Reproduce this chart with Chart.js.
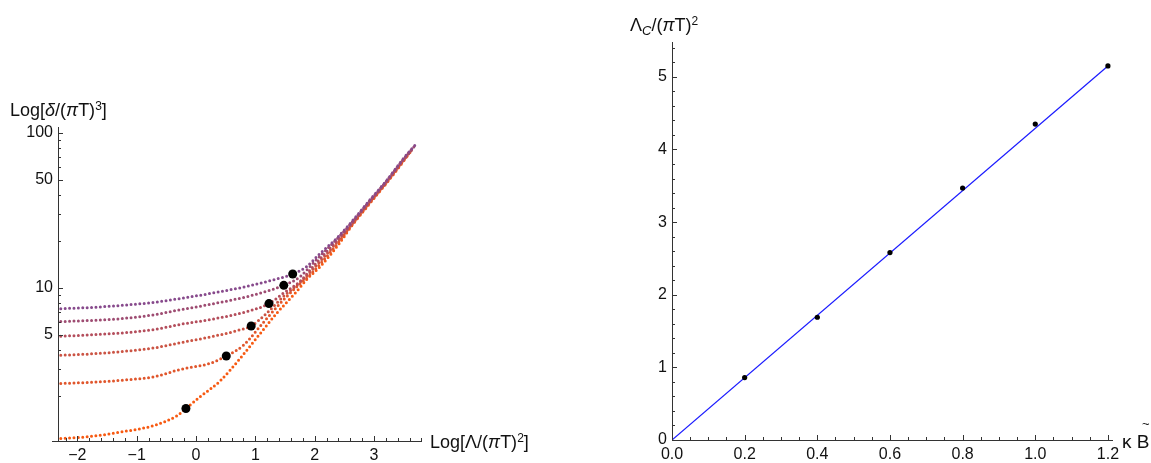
<!DOCTYPE html>
<html>
<head>
<meta charset="utf-8">
<script src="https://cdn.jsdelivr.net/npm/chart.js@4.4.1/dist/chart.umd.min.js"></script>
<style>
  body { margin: 0; background: #fff; width: 1151px; height: 463px; overflow: hidden; position: relative;
         font-family: "Liberation Sans", Arial, sans-serif; }
  .box { position: absolute; top: 0; }
  #left { left: 0; width: 575px; height: 463px; }
  #right { left: 575px; width: 576px; height: 463px; }
  .lbl { position: absolute; font-size: 18px; line-height: 18px; white-space: nowrap; color: #111; }
  .lbl sup { font-size: 12px; position: relative; top: -6px; vertical-align: baseline; }
  .lbl sub { font-size: 13px; position: relative; top: 4px; vertical-align: baseline; }
  .tilde { position: absolute; font-size: 13px; line-height: 13px; color: #111; }
</style>
</head>
<body>
<div class="box" id="left"><canvas id="cLeft" width="575" height="463"></canvas></div>
<div class="box" id="right"><canvas id="cRight" width="576" height="463"></canvas></div>

<div class="lbl" style="left:10px;top:101px">Log[<i>δ</i>/(<i>π</i>T)<sup>3</sup>]</div>
<div class="lbl" style="left:430px;top:433px">Log[Λ/(<i>π</i>T)<sup>2</sup>]</div>
<div class="lbl" style="left:630px;top:16px">Λ<sub><i>C</i></sub>/(<i>π</i>T)<sup>2</sup></div>
<div class="lbl" style="left:1122px;top:433px;font-size:19px">κ B</div>
<div class="tilde" style="left:1142px;top:417px">~</div>

<script>
// ---- left panel: Log[Λ/(πT)^2] vs δ/(πT)^3 (log axis), six families
const curve1 = [[-2.28,7.35],[-1.8,7.48],[-1.25,7.73],[-0.7,8.09],[-0.27,8.55],[0.29,9.29],[0.85,10.23],[1.3,11.27],[1.63,12.3],[1.85,13.6],[2.09,16.7],[2.37,20.9],[2.65,27.5],[2.93,37.0],[3.22,49.8],[3.50,68.7],[3.71,84.9]];
const curve2 = [[-2.28,6.07],[-1.8,6.17],[-1.25,6.35],[-0.7,6.73],[-0.27,7.24],[0.29,7.91],[0.97,9.02],[1.48,10.4],[1.75,11.8],[1.97,14.4],[2.28,19.0],[2.57,25.0],[2.86,34.0],[3.21,49.0],[3.50,68.0],[3.68,82.0]];
const curve3 = [[-2.28,4.88],[-1.8,4.98],[-1.25,5.13],[-0.7,5.40],[-0.27,5.82],[0.29,6.31],[0.85,7.03],[1.23,7.93],[1.47,9.25],[1.75,11.0],[2.02,14.4],[2.31,19.0],[2.59,25.0],[2.87,34.0],[3.22,49.0],[3.50,67.5],[3.66,80.0]];
const curve4 = [[-2.28,3.68],[-1.8,3.75],[-1.25,3.89],[-0.7,4.11],[-0.27,4.43],[0.29,4.88],[0.74,5.37],[0.93,5.69],[1.19,6.87],[1.47,8.79],[1.75,10.84],[2.06,14.4],[2.34,19.0],[2.60,25.0],[2.88,34.0],[3.23,49.0],[3.50,67.0],[3.64,78.0]];
const curve5 = [[-2.28,2.42],[-1.8,2.46],[-1.25,2.54],[-0.7,2.68],[-0.27,2.98],[0.24,3.27],[0.51,3.64],[0.80,4.27],[1.13,5.96],[1.42,7.96],[1.70,10.2],[1.89,11.8],[2.10,14.4],[2.37,19.0],[2.61,25.0],[2.89,34.0],[3.23,49.0],[3.50,66.5],[3.62,76.0]];
const curve6 = [[-2.28,1.07],[-1.8,1.10],[-1.25,1.18],[-0.7,1.30],[-0.32,1.50],[-0.17,1.67],[0.07,1.99],[0.40,2.50],[0.74,3.50],[1.02,4.75],[1.36,6.87],[1.67,9.24],[1.89,11.6],[2.09,13.7],[2.40,19.0],[2.62,25.0],[2.90,34.0],[3.24,49.0],[3.50,66.0],[3.60,75.0]];
const curveColors = ['#874a8c', '#9e4c72', '#b44e5c', '#cb5444', '#e0562c', '#f75a12'];

// black markers on each family
const markX = [1.63, 1.48, 1.23, 0.93, 0.51, -0.17];
const markY = [12.3, 10.4, 7.93, 5.69, 3.64, 1.67];

const leftXTicks = [-2, -1, 0, 1, 2, 3];
const leftYTicks = [5, 10, 50, 100];
const leftYMinor = [2, 3, 4, 6, 7, 8, 9, 20, 30, 40, 60, 70, 80, 90];

// ---- right panel: Λc/(πT)^2 vs κ B~
const kappaB = [0.2, 0.4, 0.6, 0.8, 1.0, 1.2];
const lambdaC = [0.86, 1.69, 2.58, 3.47, 4.35, 5.15];
const fitX = [0, 1.2];
const fitY = [0, 5.15];
const rightXTicks = [0, 0.2, 0.4, 0.6, 0.8, 1.0, 1.2];
const rightYTicks = [0, 1, 2, 3, 4, 5];

function steps(from, to, step, skip) {
  const out = [];
  for (let i = 0; from + i * step <= to + 1e-9; i++) {
    const v = +(from + i * step).toFixed(4);
    if (!skip.some(s => Math.abs(s - v) < 1e-6)) out.push(v);
  }
  return out;
}

Chart.defaults.font.family = '"Liberation Sans", Arial, sans-serif';
Chart.defaults.font.size = 16;
Chart.defaults.color = '#111';

// mathematica style axes: lines + inward ticks
function mathAxes(o) {
  return {
    id: 'mathAxes' + o.name,
    afterDraw(chart) {
      const ctx = chart.ctx, a = chart.chartArea;
      const sx = chart.scales.x, sy = chart.scales.y;
      const bx = Math.round(a.bottom) + 0.5, lx = Math.round(a.left) + 0.5;
      ctx.save();
      ctx.strokeStyle = '#333';
      ctx.lineWidth = 1;
      ctx.setLineDash([]);
      ctx.beginPath();
      ctx.moveTo(a.left - o.overhang, bx); ctx.lineTo(a.right, bx);
      ctx.moveTo(lx, a.bottom); ctx.lineTo(lx, a.top);
      const tick = (v, len, horiz) => {
        if (horiz) {
          const p = Math.round(sx.getPixelForValue(v)) + 0.5;
          ctx.moveTo(p, a.bottom); ctx.lineTo(p, a.bottom - len);
        } else {
          const p = Math.round(sy.getPixelForValue(v)) + 0.5;
          ctx.moveTo(a.left, p); ctx.lineTo(a.left + len, p);
        }
      };
      o.xMajor.forEach(v => tick(v, 5, true));
      o.xMinor.forEach(v => tick(v, 3, true));
      o.yMajor.forEach(v => tick(v, 5, false));
      o.yMinor.forEach(v => tick(v, 3, false));
      ctx.stroke();
      ctx.restore();
    }
  };
}

const noGrid = { display: false, drawTicks: false };

new Chart(document.getElementById('cLeft'), {
  type: 'line',
  data: {
    datasets: [
      {
        data: markX.map((x, i) => ({ x, y: markY[i] })),
        showLine: false, pointRadius: 4.5, pointBackgroundColor: '#000', pointBorderWidth: 0
      },
      ...[curve1, curve2, curve3, curve4, curve5, curve6].map((c, i) => ({
        data: c.map(p => ({ x: p[0], y: p[1] })),
        borderColor: curveColors[i],
        borderWidth: 3,
        borderDash: [0, 4.4],
        borderCapStyle: 'round',
        cubicInterpolationMode: 'monotone',
        pointRadius: 0,
        fill: false
      }))
    ]
  },
  options: {
    responsive: false,
    animation: false,
    layout: { padding: { left: 0, right: 153, top: 127, bottom: 0 } },
    plugins: { legend: { display: false }, tooltip: { enabled: false } },
    scales: {
      x: {
        type: 'linear', min: -2.327, max: 3.81,
        afterBuildTicks: s => { s.ticks = leftXTicks.map(v => ({ value: v })); },
        afterFit: s => { s.height = 22; },
        ticks: { callback: v => (v < 0 ? '\u2212' + Math.abs(v) : String(v)), padding: 5, maxRotation: 0, autoSkip: false },
        grid: noGrid, border: { display: false }
      },
      y: {
        type: 'logarithmic', min: 1.03, max: 109.3,
        afterBuildTicks: s => { s.ticks = leftYTicks.map(v => ({ value: v })); },
        afterFit: s => { s.width = 58; },
        ticks: { callback: v => String(v), padding: 5, autoSkip: false },
        grid: noGrid, border: { display: false }
      }
    }
  },
  plugins: [mathAxes({
    name: 'L',
    overhang: 6,
    xMajor: leftXTicks,
    xMinor: steps(-2.2, 3.8, 0.2, leftXTicks),
    yMajor: leftYTicks,
    yMinor: leftYMinor
  })]
});

new Chart(document.getElementById('cRight'), {
  type: 'line',
  data: {
    datasets: [
      {
        data: kappaB.map((x, i) => ({ x, y: lambdaC[i] })),
        showLine: false, pointRadius: 2.6, pointBackgroundColor: '#000', pointBorderWidth: 0
      },
      {
        data: fitX.map((x, i) => ({ x, y: fitY[i] })),
        borderColor: '#1a1aff', borderWidth: 1.2, pointRadius: 0, fill: false
      }
    ]
  },
  options: {
    responsive: false,
    animation: false,
    layout: { padding: { left: 0, right: 38, top: 42, bottom: 0 } },
    plugins: { legend: { display: false }, tooltip: { enabled: false } },
    scales: {
      x: {
        type: 'linear', min: 0, max: 1.214,
        afterBuildTicks: s => { s.ticks = rightXTicks.map(v => ({ value: v })); },
        afterFit: s => { s.height = 23; },
        ticks: { callback: v => v.toFixed(1), padding: 5, maxRotation: 0, autoSkip: false },
        grid: noGrid, border: { display: false }
      },
      y: {
        type: 'linear', min: 0, max: 5.48,
        afterBuildTicks: s => { s.ticks = rightYTicks.map(v => ({ value: v })); },
        afterFit: s => { s.width = 97; },
        ticks: { callback: v => String(v), padding: 5, autoSkip: false },
        grid: noGrid, border: { display: false }
      }
    }
  },
  plugins: [mathAxes({
    name: 'R',
    overhang: 0,
    xMajor: rightXTicks,
    xMinor: steps(0.05, 1.2, 0.05, rightXTicks),
    yMajor: rightYTicks,
    yMinor: steps(0.2, 5.4, 0.2, rightYTicks)
  })]
});
</script>
</body>
</html>
